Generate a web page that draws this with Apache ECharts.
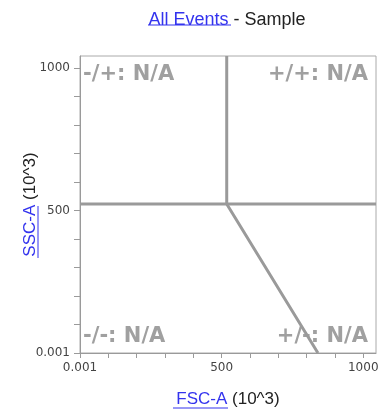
<!DOCTYPE html>
<html>
<head>
<meta charset="UTF-8">
<title>All Events - Sample</title>
<style>
  html, body { margin: 0; padding: 0; background: #fff; }
  #chart { width: 378px; height: 411px; }
</style>
</head>
<body>
<div id="chart"></div>
<script src="https://cdn.jsdelivr.net/npm/echarts@6/dist/echarts.min.js"></script>
<script>
// axis ranges (10^3 units)
var xRange = [0, 1045];
var yRange = [0, 1042];
var tickValues = [0, 100, 200, 300, 400, 500, 600, 700, 800, 900, 1000];
var labelValues = [0, 500, 1000];

// quadrant gate: vertical split, horizontal split, and slanted lower split
var gateUpper = [[518, 1042], [518, 523], [840, 0]];
var gateHorizontal = [[0, 523], [1045, 523]];

// quadrant captions
var quadrantNames = ['-/+: N/A', '+/+: N/A', '-/-: N/A', '+/-: N/A'];

var gray = '#9a9a9a';
var blue = '#3333ee';
var chart = echarts.init(document.getElementById('chart'));

function tickLabel(v) {
  return v === 0 ? '0.001' : String(v);
}

function nameRich(size) {
  return {
    a: { color: blue, fontSize: size, fontWeight: 'normal', fontFamily: '"Liberation Sans", Arial' },
    b: { color: '#222', fontSize: size, fontWeight: 'normal', fontFamily: '"Liberation Sans", Arial' }
  };
}

var quadFont = 'bold 21px "DejaVu Sans"';

option = {
  animation: false,
  grid: {
    left: 80, right: 2, top: 56, bottom: 58,
    outerBoundsMode: 'none',
    show: true, borderColor: '#aaa', borderWidth: 1
  },
  title: {
    text: '{a|All Events }{b|- Sample}',
    left: 222, top: 6, textAlign: 'center',
    textStyle: { fontWeight: 'normal', rich: nameRich(18) }
  },
  xAxis: {
    type: 'value', min: xRange[0], max: xRange[1],
    splitLine: { show: false },
    axisLine: { lineStyle: { color: gray } },
    axisTick: { length: 5, lineStyle: { color: gray }, customValues: tickValues },
    axisLabel: { customValues: labelValues, formatter: tickLabel, color: '#444', fontSize: 12, fontFamily: '"DejaVu Sans"', margin: 9 },
    name: '{a|FSC-A }{b|(10^3)}',
    nameLocation: 'middle', nameGap: 38, nameMoveOverlap: false,
    nameTextStyle: { rich: nameRich(17) }
  },
  yAxis: {
    type: 'value', min: yRange[0], max: yRange[1],
    splitLine: { show: false },
    axisLine: { lineStyle: { color: gray } },
    axisTick: { length: 6, lineStyle: { color: gray }, customValues: tickValues },
    axisLabel: { customValues: labelValues, formatter: tickLabel, color: '#444', fontSize: 12, fontFamily: '"DejaVu Sans"', margin: 10 },
    name: '{a|SSC-A}{b| (10^3)}',
    nameLocation: 'middle', nameGap: 41, nameMoveOverlap: false,
    nameTextStyle: { rich: nameRich(17) }
  },
  series: [{
    type: 'line', data: gateUpper, symbol: 'none', silent: true,
    lineStyle: { color: gray, width: 3 }
  }, {
    type: 'line', data: gateHorizontal, symbol: 'none', silent: true,
    lineStyle: { color: gray, width: 3 }
  }],
  graphic: [
    // link underlines
    { type: 'line', shape: { x1: 148, y1: 25, x2: 231, y2: 25 }, style: { stroke: blue, lineWidth: 1 } },
    { type: 'line', shape: { x1: 173, y1: 408, x2: 228, y2: 408 }, style: { stroke: blue, lineWidth: 1 } },
    { type: 'line', shape: { x1: 38, y1: 206, x2: 38, y2: 258 }, style: { stroke: blue, lineWidth: 1 } },
    // quadrant captions
    { type: 'text', left: 83, top: 64, style: { text: quadrantNames[0], font: quadFont, fill: '#a0a0a0' } },
    { type: 'text', right: 10, top: 64, style: { text: quadrantNames[1], font: quadFont, fill: '#a0a0a0' } },
    { type: 'text', left: 83, top: 326, style: { text: quadrantNames[2], font: quadFont, fill: '#a0a0a0' } },
    { type: 'text', right: 10, top: 326, style: { text: quadrantNames[3], font: quadFont, fill: '#a0a0a0' } }
  ]
};

chart.setOption(option);
</script>
</body>
</html>
